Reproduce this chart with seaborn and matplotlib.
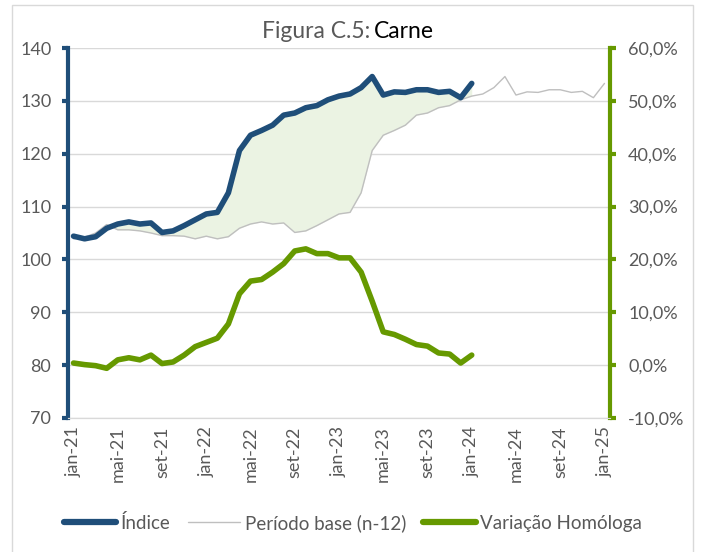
import numpy as np
import pandas as pd
import matplotlib
matplotlib.use("Agg")
import matplotlib.pyplot as plt
from matplotlib.patches import Rectangle
from matplotlib.lines import Line2D
from matplotlib.ticker import FuncFormatter, FixedLocator
import seaborn as sns

# month categories jan-21 .. jan-25
abbr = ["jan", "fev", "mar", "abr", "mai", "jun", "jul", "ago", "set", "out", "nov", "dez"]
months = [f"{m}-{y}" for y in range(21, 26) for m in abbr][:49]

# Índice (jan-21 .. jan-24)
indice = [104.4, 103.9, 104.3, 105.9, 106.7, 107.1, 106.7, 106.9, 105.1, 105.4,
          106.4, 107.5, 108.6, 108.9, 112.6, 120.6, 123.5, 124.4, 125.4, 127.3,
          127.7, 128.7, 129.1, 130.2, 130.9, 131.3, 132.5, 134.6, 131.1, 131.7,
          131.6, 132.1, 132.1, 131.6, 131.8, 130.6, 133.3]

# Período base (n-12), jan-21 .. jan-25
base = [103.9, 104.2, 105.0, 106.6, 105.6, 105.6, 105.4, 105.0, 104.5, 104.5,
        104.4, 103.9, 104.4, 103.9, 104.3, 105.9, 106.7, 107.1, 106.7, 106.9,
        105.1, 105.4, 106.4, 107.5, 108.6, 108.9, 112.6, 120.6, 123.5, 124.4,
        125.4, 127.3, 127.7, 128.7, 129.1, 130.2, 130.9, 131.3, 132.5, 134.6,
        131.1, 131.7, 131.6, 132.1, 132.1, 131.6, 131.8, 130.6, 133.3]

# Variação homóloga (jan-21 .. jan-24)
variacao = [0.4, 0.1, -0.1, -0.6, 1.0, 1.4, 1.0, 1.9, 0.3, 0.6,
            1.9, 3.5, 4.3, 5.1, 7.8, 13.5, 15.9, 16.2, 17.6, 19.2,
            21.6, 22.0, 21.1, 21.1, 20.3, 20.3, 17.6, 12.1, 6.3, 5.8,
            4.9, 3.9, 3.6, 2.3, 2.1, 0.4, 1.9]

blue = "#1F4E79"
green = "#669900"
grey_line = "#BFBFBF"
grid_c = "#D9D9D9"
txt_c = "#595959"

sns.set_style("white")
plt.rcParams["font.family"] = ["Lato", "DejaVu Sans"]

n_idx = len(indice)
df_idx = pd.DataFrame({"pos": np.arange(n_idx), "indice": indice,
                       "var": np.array(variacao) / 100})
df_base = pd.DataFrame({"pos": np.arange(len(base)), "base": base})

fig = plt.figure(figsize=(7.06, 5.52), dpi=100)
ax = fig.add_axes([68 / 706, 134 / 552, 542 / 706, 370 / 552])
ax2 = ax.twinx()

# fill between indice and base
ax.fill_between(df_idx["pos"], df_idx["indice"], df_base["base"][:n_idx],
                color="#EBF3E3", lw=0, zorder=1)
sns.lineplot(data=df_base, x="pos", y="base", ax=ax, color=grey_line, lw=1, zorder=2)
sns.lineplot(data=df_idx, x="pos", y="indice", ax=ax, color=blue, lw=4, zorder=3)
sns.lineplot(data=df_idx, x="pos", y="var", ax=ax2, color=green, lw=4, zorder=3)

ax.set_xlim(-0.5, 48.5)
ax.set_ylim(70, 140)
ax2.set_ylim(-0.1, 0.6)
ax.set_yticks(range(70, 141, 10))
ax2.set_yticks(np.arange(-0.1, 0.61, 0.1))
ax2.yaxis.set_major_formatter(FuncFormatter(lambda v, p: f"{v * 100:.1f}%".replace(".", ",")))

ax.set_xticks(range(0, 49, 4))
ax.set_xticklabels([months[i] for i in range(0, 49, 4)], rotation=90)
ax.xaxis.set_minor_locator(FixedLocator(np.arange(-0.5, 48.6, 2)))
ax.tick_params(axis="x", which="major", length=0, pad=6, labelsize=13, labelcolor=txt_c)
ax.tick_params(axis="x", which="minor", length=5, width=1, color=grid_c)

ax.tick_params(axis="y", length=4, width=3, color=blue, labelsize=13, labelcolor=txt_c, pad=8)
ax2.tick_params(axis="y", length=4, width=3, color=green, labelsize=13, labelcolor=txt_c, pad=9)

ax.yaxis.grid(True, color=grid_c, lw=1)
ax.set_axisbelow(True)
ax.set_xlabel("")
ax.set_ylabel("")
ax2.set_xlabel("")
ax2.set_ylabel("")

for a in (ax, ax2):
    a.spines["top"].set_visible(False)
    a.spines["bottom"].set_color(grid_c)
ax.spines["right"].set_visible(False)
ax2.spines["left"].set_visible(False)
ax.spines["left"].set_color(blue)
ax.spines["left"].set_linewidth(3)
ax2.spines["right"].set_color(green)
ax2.spines["right"].set_linewidth(3)

# title
fig.text(370 / 706, 1 - 31 / 552, "Figura C.5:", ha="right", va="center",
         fontsize=16.5, color=txt_c)
fig.text(374 / 706, 1 - 31 / 552, "Carne", ha="left", va="center",
         fontsize=16.5, color="black")

# legend
handles = [Line2D([], [], color=blue, lw=4.5),
           Line2D([], [], color=grey_line, lw=1),
           Line2D([], [], color=green, lw=4.5)]
labels = ["Índice", "Período base (n-12)", "Variação Homóloga"]
fig.legend(handles, labels, loc="center", bbox_to_anchor=(0.5, 1 - 523 / 552),
           ncol=3, frameon=False, fontsize=13.5, labelcolor=txt_c,
           handlelength=2.8, handletextpad=0.25, columnspacing=0.9)

# chart border
fig.add_artist(Rectangle((12 / 706, -0.05), 681 / 706, 1.05 - 5 / 552,
                         transform=fig.transFigure, fill=False, ec=grid_c, lw=1))

fig.savefig("out.png", dpi=100)
